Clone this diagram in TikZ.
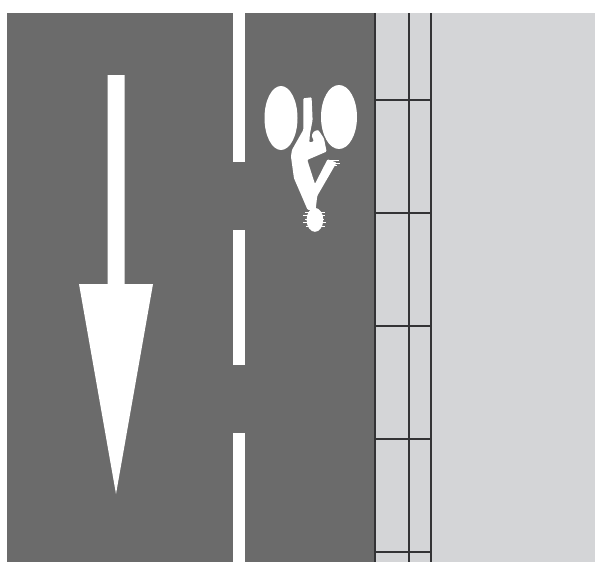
\documentclass[tikz,border=0pt]{standalone}
\usepackage{xcolor}
\definecolor{roadgray}{HTML}{6B6B6B}
\definecolor{walkgray}{HTML}{D4D5D7}
\definecolor{jointgray}{HTML}{333335}

\begin{document}
\begin{tikzpicture}[
    x=1pt, y=-1pt,
    marking/.style={fill=white, draw=none},
    joint/.style={draw=jointgray, line width=1.3pt},
    fringe/.style={draw=white, line width=0.3pt}
]
\useasboundingbox (0,0) rectangle (595,562);

%% ── Surfaces ─────────────────────────────────────────────────────────────────
\fill[roadgray] (7,13) rectangle (375,562);
\fill[walkgray] (375,13) rectangle (595,562);

%% ── Centre line ──────────────────────────────────────────────────────────────
\fill[marking] (233,13)  rectangle (245,162);
\fill[marking] (233,230) rectangle (245,365);
\fill[marking] (233,433) rectangle (245,562);

%% ── Direction arrow ──────────────────────────────────────────────────────────
\fill[marking] (107.5,75) -- (124.5,75) -- (124.5,284) -- (153,284)
    -- (116,494) -- (79,284) -- (107.5,284) -- cycle;

%% ── Paving joints ────────────────────────────────────────────────────────────
\foreach \jx in {375,409,431}
    \draw[joint] (\jx,13) -- (\jx,562);
\foreach \jy in {100,213,326,439,552}
    \draw[joint] (375,\jy) -- (431,\jy);

%% ── Cycle symbol ─────────────────────────────────────────────────────────────
\fill[marking] (281,118) ellipse [x radius=16.5, y radius=32];
\fill[marking] (339,117) ellipse [x radius=18, y radius=32];
\begin{scope}[shift={(250,70)}, x=0.333pt, y=-0.333pt]
    \fill[marking, rounded corners=1pt]
        (160,85) -- (185,82) -- (188,150) -- (180,192) -- (178,218) -- (192,214)
        -- (185,197) -- (192,184) -- (205,180) -- (222,205) -- (230,245)
        -- (172,270) -- (195,342) -- (233,268) -- (260,278) -- (202,378)
        -- (197,420) -- (173,420) -- (158,385) -- (132,325) -- (123,260)
        -- (126,240) -- (160,180) -- cycle;
    \fill[marking] (195,450) ellipse [x radius=25, y radius=36];
    %% ragged edges of the symbol
    \foreach \fy/\fa/\fb in {428/166/224, 437/160/226, 449/166/222, 458/160/228, 470/168/224}
        \draw[fringe] (\fa,\fy) -- (\fb,\fy);
    \foreach \fy/\fb in {272/266, 279/270, 286/262}
        \draw[fringe] (240,\fy) -- (\fb,\fy);
\end{scope}

\end{tikzpicture}
\end{document}
